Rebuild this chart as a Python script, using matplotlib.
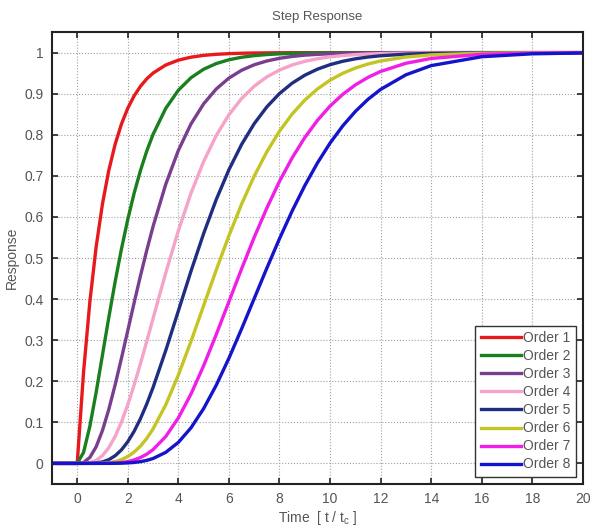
import numpy as np
import matplotlib
matplotlib.use('Agg')
import matplotlib.pyplot as plt

plt.rcParams['font.family'] = ['Liberation Sans', 'DejaVu Sans']

##########################################################################################
#Data

t_vals = [-1.0, 0, 0.25, 0.5, 0.75, 1, 1.25, 1.5, 1.75, 2, 2.25, 2.5, 2.75, 3, 3.5, 4, 4.5, 5,
	5.5, 6, 6.5, 7, 7.5, 8, 8.5, 9, 9.5, 10, 10.5, 11, 11.5, 12, 13, 14, 16, 18, 20]

order_1 = [0, 0, 0.2212, 0.3935, 0.5276, 0.6321, 0.7135, 0.7769, 0.8262, 0.8647, 0.8946, 0.9179,
	0.9361, 0.9502, 0.9698, 0.9817, 0.9889, 0.9933, 0.9959, 0.9975, 0.9985, 0.9991, 0.9994, 0.9997,
	0.9998, 0.9999, 0.9999, 1.0, 1.0, 1.0, 1.0, 1.0, 1.0, 1.0, 1.0, 1.0, 1.0]
order_2 = [0, 0, 0.0265, 0.0902, 0.1733, 0.2642, 0.3554, 0.4422, 0.5221, 0.5940, 0.6575, 0.7127,
	0.7603, 0.8009, 0.8641, 0.9084, 0.9389, 0.9596, 0.9734, 0.9826, 0.9887, 0.9927, 0.9953, 0.9970,
	0.9981, 0.9988, 0.9992, 0.9995, 0.9997, 0.9998, 0.9999, 0.9999, 1.0, 1.0, 1.0, 1.0, 1.0]
order_3 = [0, 0, 0.0022, 0.0144, 0.0405, 0.0803, 0.1315, 0.1912, 0.2560, 0.3233, 0.3907, 0.4562,
	0.5185, 0.5768, 0.6792, 0.7619, 0.8264, 0.8753, 0.9116, 0.9380, 0.9570, 0.9704, 0.9797, 0.9862,
	0.9907, 0.9938, 0.9958, 0.9972, 0.9982, 0.9988, 0.9992, 0.9995, 0.9998, 0.9999, 1.0, 1.0, 1.0]
order_4 = [0, 0, 0.0001, 0.0018, 0.0073, 0.0190, 0.0383, 0.0656, 0.1008, 0.1429, 0.1906, 0.2424,
	0.2970, 0.3528, 0.4634, 0.5665, 0.6577, 0.7350, 0.7983, 0.8488, 0.8882, 0.9182, 0.9409, 0.9576,
	0.9699, 0.9788, 0.9851, 0.9897, 0.9929, 0.9951, 0.9966, 0.9977, 0.9989, 0.9995, 0.9999, 1.0, 1.0]
order_5 = [0, 0, 0, 0.0002, 0.0011, 0.0037, 0.0091, 0.0186, 0.0329, 0.0527, 0.0780, 0.1088,
	0.1446, 0.1847, 0.2746, 0.3712, 0.4679, 0.5595, 0.6425, 0.7149, 0.7763, 0.8270, 0.8679, 0.9004,
	0.9256, 0.9450, 0.9597, 0.9707, 0.9789, 0.9849, 0.9893, 0.9924, 0.9963, 0.9982, 0.9996, 0.9999, 1.0]
order_6 = [0, 0, 0, 0, 0.0001, 0.0006, 0.0018, 0.0045, 0.0091, 0.0166, 0.0274, 0.0420,
	0.0608, 0.0839, 0.1424, 0.2149, 0.2971, 0.3840, 0.4711, 0.5543, 0.6310, 0.6993, 0.7586, 0.8088,
	0.8504, 0.8843, 0.9115, 0.9329, 0.9496, 0.9625, 0.9723, 0.9797, 0.9893, 0.9945, 0.9986, 0.9997, 0.9999]
order_7 = [0, 0, 0, 0, 0, 0.0001, 0.0003, 0.0009, 0.0022, 0.0045, 0.0084, 0.0142,
	0.0224, 0.0335, 0.0653, 0.1107, 0.1689, 0.2378, 0.3140, 0.3937, 0.4735, 0.5503, 0.6218, 0.6866,
	0.7438, 0.7932, 0.8350, 0.8699, 0.8984, 0.9214, 0.9397, 0.9542, 0.9741, 0.9858, 0.9960, 0.9990, 0.9997]
order_8 = [0, 0, 0, 0, 0, 0, 0, 0.0002, 0.0005, 0.0011, 0.0023, 0.0042,
	0.0073, 0.0119, 0.0268, 0.0511, 0.0866, 0.1334, 0.1905, 0.2560, 0.3273, 0.4013, 0.4754, 0.5470,
	0.6144, 0.6761, 0.7313, 0.7798, 0.8215, 0.8568, 0.8863, 0.9105, 0.9460, 0.9684, 0.9900, 0.9971, 0.9992]

labels = ['Order 1', 'Order 2', 'Order 3', 'Order 4', 'Order 5', 'Order 6', 'Order 7', 'Order 8']
colors = ['#e8191c', '#1a801f', '#7a3e8e', '#f5a3c9', '#1f2e80', '#c4c423', '#f01ee6', '#1414cc']

##########################################################################################
#Plot

series = [order_1, order_2, order_3, order_4, order_5, order_6, order_7, order_8]

fig = plt.figure(figsize=(5.9, 5.26), dpi=100)
ax1 = fig.add_axes([0.088, 0.080, 0.900, 0.859])

for i in range(len(series)):
	ax1.plot(t_vals, series[i], color=colors[i], lw=2.4, label=labels[i], solid_joinstyle='round')

ax1.set_xlim([-1, 20])
ax1.set_ylim([-0.05, 1.05])
ax1.set_xticks(np.arange(0, 21, 2))
ax1.set_yticks(np.arange(0, 1.01, 0.1))
ax1.set_yticklabels(['0', '0.1', '0.2', '0.3', '0.4', '0.5', '0.6', '0.7', '0.8', '0.9', '1'])

ax1.grid(True, linestyle=':', color='#a0a0a0', lw=0.8)
ax1.tick_params(direction='in', top=True, right=True, length=4, width=1.2,
	labelsize=10, labelcolor='#555555', color='#222222', pad=6)
for sp in ax1.spines.values():
	sp.set_linewidth(1.5)
	sp.set_color('#222222')

ax1.set_title('Step Response', fontsize=9.5, color='#555555', pad=9)
ax1.set_xlabel('Time  [ t / t$_\\mathregular{c}$ ]', fontsize=10, color='#555555', labelpad=2)
ax1.set_ylabel('Response', fontsize=10, color='#555555', labelpad=4)

leg = ax1.legend(loc='lower right', fontsize=10, handlelength=2.9, handletextpad=0.15,
	labelspacing=0.29, borderpad=0.4, borderaxespad=0.5, fancybox=False, framealpha=1)
leg.get_frame().set_edgecolor('#333333')
leg.get_frame().set_linewidth(1.0)
for txt in leg.get_texts():
	txt.set_color('#555555')

plt.savefig('out.png', dpi=100)
